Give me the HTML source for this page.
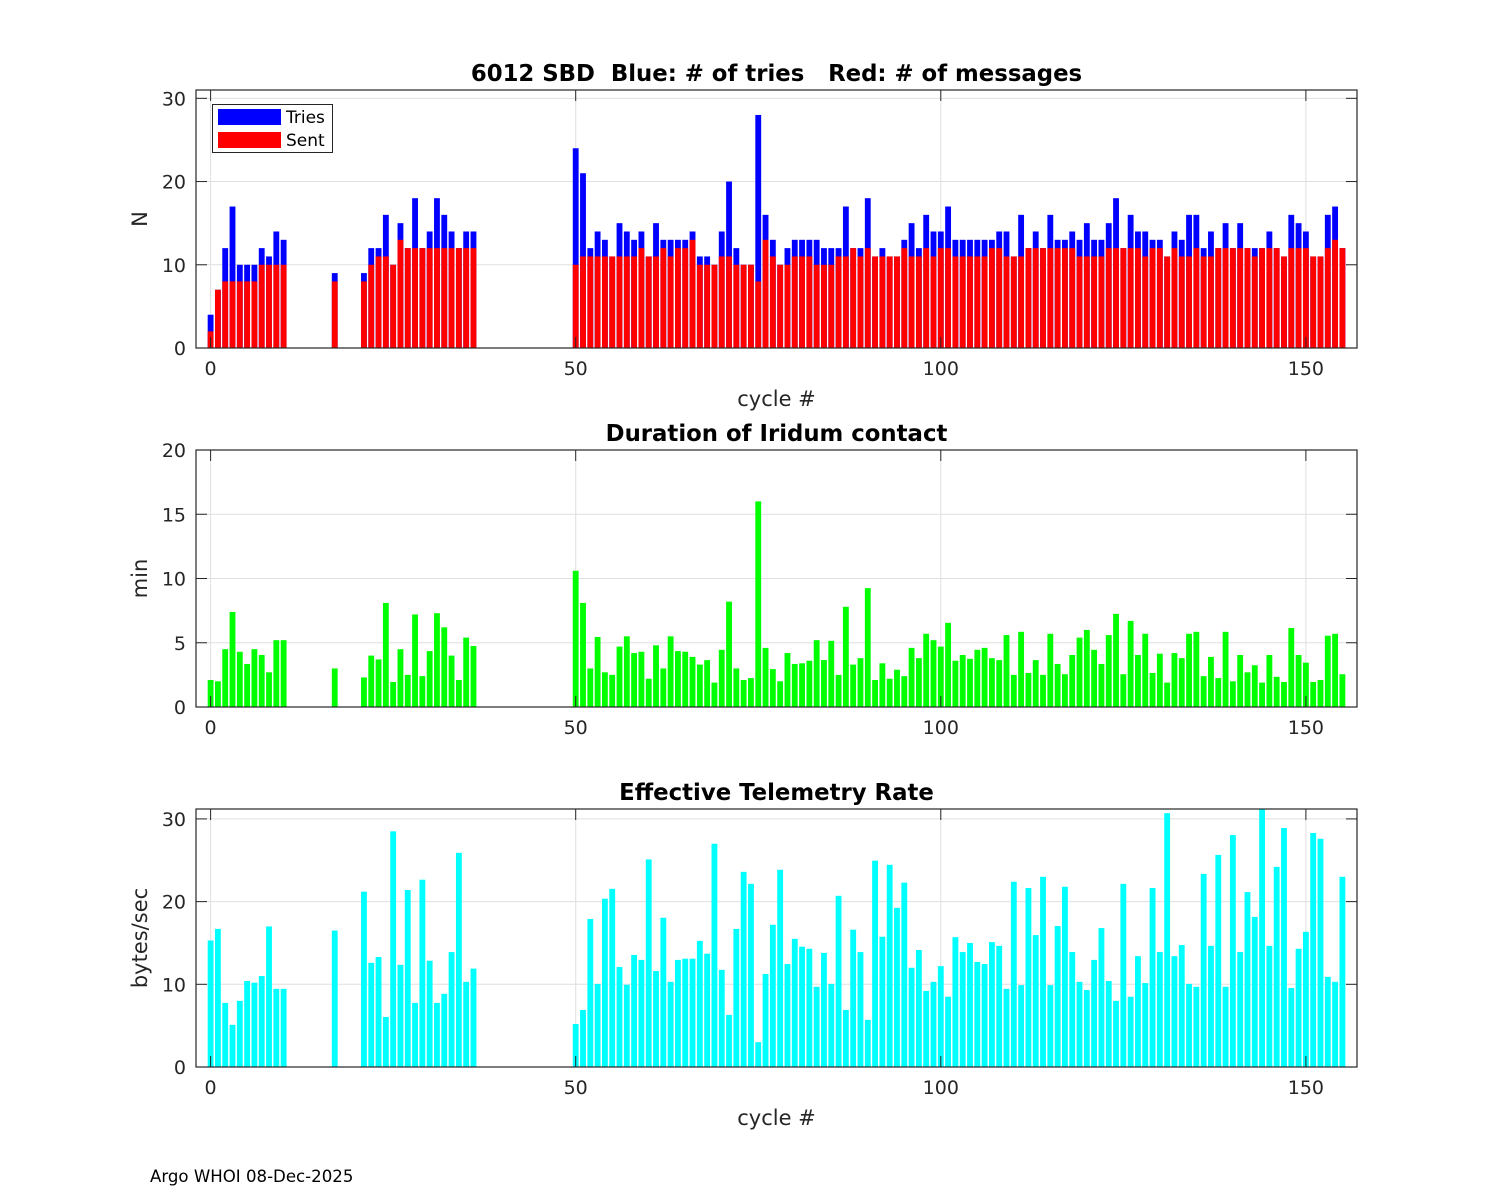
<!DOCTYPE html>
<html><head><meta charset="utf-8"><style>
html,body{margin:0;padding:0;background:#fff;}
svg{display:block;font-family:"DejaVu Sans","Liberation Sans",sans-serif;}
text{white-space:pre;}
</style></head><body>
<svg id="fig" width="1500" height="1200" viewBox="0 0 1500 1200" xmlns="http://www.w3.org/2000/svg">
<rect width="1500" height="1200" fill="#fff"/>
<text x="150" y="1182" font-size="16.6" fill="#000">Argo WHOI 08-Dec-2025</text>
</svg>
<script>
const cycles = [0,1,2,3,4,5,6,7,8,9,10,17,21,22,23,24,25,26,27,28,29,30,31,32,33,34,35,36,
50,51,52,53,54,55,56,57,58,59,60,61,62,63,64,65,66,67,68,69,70,71,72,73,74,75,76,77,78,79,
80,81,82,83,84,85,86,87,88,89,90,91,92,93,94,95,96,97,98,99,100,101,102,103,104,105,106,107,108,109,
110,111,112,113,114,115,116,117,118,119,120,121,122,123,124,125,126,127,128,129,130,131,132,133,134,135,136,137,138,139,
140,141,142,143,144,145,146,147,148,149,150,151,152,153,154,155];
const tries = [4,7,12,17,10,10,10,12,11,14,13,9,9,12,12,16,10,15,12,18,12,14,18,16,14,12,14,14,
24,21,12,14,13,11,15,14,13,14, 11,15,13,13,13,13,14,11,11,10, 14,20,12,10,10,28,16,13,10,12,
13,13,13,13,12,12,12,17,12,12, 18,11,12,11,11,13,15,12,16,14, 14,17,13,13,13,13,13,13,14,14,
11,16,12,14,12,16,13,13,14,13, 15,13,13,15,18,12,16,14,14,13, 13,11,14,13,16,16,12,14,12,15,
12,15,12,12,12,14,12,11,16,15, 14,11,11,16,17,12];
const sent = [2,7,8,8,8,8,8,10,10,10,10,8,8,10,11,11,10,13,12,12,12,12,12,12,12,12,12,12,
10,11,11,11,11,11,11,11,11,12, 11,11,12,11,12,12,13,10,10,10, 11,11,10,10,10,8,13,11,10,10,
11,11,11,10,10,10,11,11,12,11, 12,11,11,11,11,12,11,11,12,11, 12,12,11,11,11,11,11,12,12,11,
11,11,12,12,12,12,12,12,12,11, 11,11,11,12,12,12,12,12,11,12, 12,11,12,11,11,12,11,11,12,12,
12,12,12,11,12,12,12,11,12,12, 12,11,11,12,13,12];
const duration = [2.1,2.0,4.5,7.4,4.3,3.35,4.5,4.05,2.7,5.2,5.2,3.0,2.3,4.0,3.7,8.1,1.95,4.5,2.5,7.2,2.4,4.35,7.3,6.2,4.0,2.1,5.4,4.75,
10.6,8.1,3.0,5.45,2.7,2.5,4.7,5.5,4.2,4.3, 2.2,4.8,3.0,5.5,4.35,4.3,3.9,3.3,3.65,1.9, 4.45,8.2,3.0,2.1,2.25,16,4.6,2.95,2.0,4.2,
3.35,3.4,3.6,5.2,3.65,5.15,2.5,7.8,3.3,3.8, 9.25,2.1,3.4,2.2,2.9,2.4,4.6,3.8,5.7,5.2, 4.7,6.55,3.6,4.05,3.75,4.45,4.6,3.8,3.65,5.6,
2.5,5.85,2.65,3.65,2.5,5.7,3.35,2.55,4.05,5.4, 6.0,4.45,3.35,5.6,7.25,2.55,6.7,4.05,5.7,2.65, 4.15,1.9,4.2,3.8,5.7,5.85,2.4,3.9,2.25,5.85,
2.0,4.05,2.7,3.25,1.9,4.05,2.35,1.95,6.15,4.05, 3.45,1.95,2.1,5.55,5.7,2.55];
const rate = [15.3,16.7,7.75,5.1,8.0,10.4,10.2,11.0,17.0,9.45,9.45,16.5,21.2,12.6,13.3,6.05,28.5,12.35,21.4,7.75,22.65,12.85,7.75,8.85,13.9,25.9,10.3,11.9,
5.2,6.9,17.9,10.05,20.35,21.55,12.1,9.95,13.55,12.95, 25.1,11.6,18.05,10.3,12.95,13.1,13.1,15.25,13.7,27.0, 11.75,6.3,16.7,23.6,22.15,3.0,11.25,17.2,23.85,12.45,
15.5,14.55,14.3,9.7,13.8,10.05,20.7,6.9,16.6,13.9, 5.7,24.95,15.75,24.45,19.25,22.3,12.0,14.15,9.2,10.3, 12.2,8.5,15.7,13.9,15.0,12.7,12.45,15.1,14.65,9.45,
22.4,9.9,21.65,15.95,23.0,9.9,17.05,21.8,13.9,10.3, 9.3,12.95,16.8,10.4,8.0,22.15,8.5,13.4,10.15,21.65, 13.9,30.7,13.4,14.75,10.05,9.7,23.35,14.65,25.65,9.7,
28.05,13.9,21.15,18.15,31.2,14.65,24.2,28.9,9.55,14.3, 16.35,28.3,27.6,10.9,10.3,23.0];
const xTicks = [0,50,100,150];
const yTicks1 = [0,10,20,30];
const yTicks2 = [0,5,10,15,20];
const yTicks3 = [0,10,20,30];

const NS = "http://www.w3.org/2000/svg";
const svg = document.getElementById('fig');
const X0 = 196, X1 = 1357, XMIN = -2, XMAX = 157;
function xs(v){ return X0 + (v - XMIN) / (XMAX - XMIN) * (X1 - X0); }
function mk(tag, attrs, parent){ const e = document.createElementNS(NS, tag); for (const k in attrs) e.setAttribute(k, attrs[k]); (parent||svg).appendChild(e); return e; }

function axes(top, bot, ymax, yTicks, title, ylab, xlab, name){
  const g = mk('g', {});
  
  
  const ys = v => bot - v / ymax * (bot - top);
  xTicks.forEach(t => { const l = mk('line', {x1:xs(t), x2:xs(t), y1:top, y2:bot, stroke:'#dfdfdf', 'stroke-width':1}, g);
      });
  yTicks.forEach(t => { const l = mk('line', {x1:X0, x2:X1, y1:ys(t), y2:ys(t), stroke:'#dfdfdf', 'stroke-width':1}, g);
      });
  const barsG = mk('g', {}, g);
  
  
  const fr = mk('rect', {x:X0, y:top, width:X1-X0, height:bot-top, fill:'none', stroke:'#262626', 'stroke-width':1.2}, g);
   
  xTicks.forEach(t => {
    mk('line', {x1:xs(t), x2:xs(t), y1:bot, y2:bot-11, stroke:'#262626'}, g);
    mk('line', {x1:xs(t), x2:xs(t), y1:top, y2:top+11, stroke:'#262626'}, g);
    const tx = mk('text', {x:xs(t), y:bot+27, 'font-size':19, 'text-anchor':'middle', fill:'#262626'}, g);
    tx.textContent = t;
     
  });
  yTicks.forEach(t => {
    mk('line', {x1:X0, x2:X0+11, y1:ys(t), y2:ys(t), stroke:'#262626'}, g);
    mk('line', {x1:X1, x2:X1-11, y1:ys(t), y2:ys(t), stroke:'#262626'}, g);
    const tx = mk('text', {x:X0-10, y:ys(t)+7, 'font-size':19, 'text-anchor':'end', fill:'#262626'}, g);
    tx.textContent = t;
     
  });
  const ti = mk('text', {x:(X0+X1)/2, y:top-9, 'font-size':22.8, 'font-weight':'bold', 'text-anchor':'middle', fill:'#000'}, g);
  ti.textContent = title;
   
  const yl = mk('text', {x:0, y:0, 'font-size':21, 'text-anchor':'middle', fill:'#262626', transform:`translate(147,${(top+bot)/2}) rotate(-90)`}, g);
  yl.textContent = ylab;
   
  if (xlab){
    const xl = mk('text', {x:(X0+X1)/2, y:bot+58, 'font-size':21, 'text-anchor':'middle', fill:'#262626'}, g);
    xl.textContent = xlab;
     
  }
  return {ys, barsG};
}
const BW = 0.8 * (X1 - X0) / (XMAX - XMIN);
function bar(g, c, v, ys, bot, color, nm){
  const r = mk('rect', {x:xs(c)-BW/2, y:ys(v), width:BW, height:bot-ys(v), fill:color}, g);
  
  
}

const a1 = axes(90, 348, 31, yTicks1, '6012 SBD  Blue: # of tries   Red: # of messages', 'N', 'cycle #', 'tries-chart');
cycles.forEach((c,i) => { bar(a1.barsG, c, tries[i], a1.ys, 348, '#0000ff', 'tries-bar-' + c); bar(a1.barsG, c, sent[i], a1.ys, 348, '#ff0000', 'sent-bar-' + c); });
const lg = mk('g', {});


mk('rect', {x:212.5, y:104.5, width:120, height:48, fill:'#fff', stroke:'#262626', 'stroke-width':1}, lg);
mk('rect', {x:218, y:109, width:63, height:16, fill:'#0000ff'}, lg);
mk('rect', {x:218, y:132, width:63, height:16, fill:'#ff0000'}, lg);
const lt1 = mk('text', {x:286, y:123, 'font-size':17, fill:'#000'}, lg); lt1.textContent = 'Tries';


const lt2 = mk('text', {x:286, y:146, 'font-size':17, fill:'#000'}, lg); lt2.textContent = 'Sent';



const a2 = axes(450, 707, 20, yTicks2, 'Duration of Iridum contact', 'min', null, 'duration-chart');
cycles.forEach((c,i) => bar(a2.barsG, c, duration[i], a2.ys, 707, '#00ff00', 'duration-bar-' + c));

const a3 = axes(809, 1067, 31.2, yTicks3, 'Effective Telemetry Rate', 'bytes/sec', 'cycle #', 'rate-chart');
cycles.forEach((c,i) => bar(a3.barsG, c, Math.min(rate[i], 31.2), a3.ys, 1067, '#00ffff', 'rate-bar-' + c));
</script>
</body></html>
